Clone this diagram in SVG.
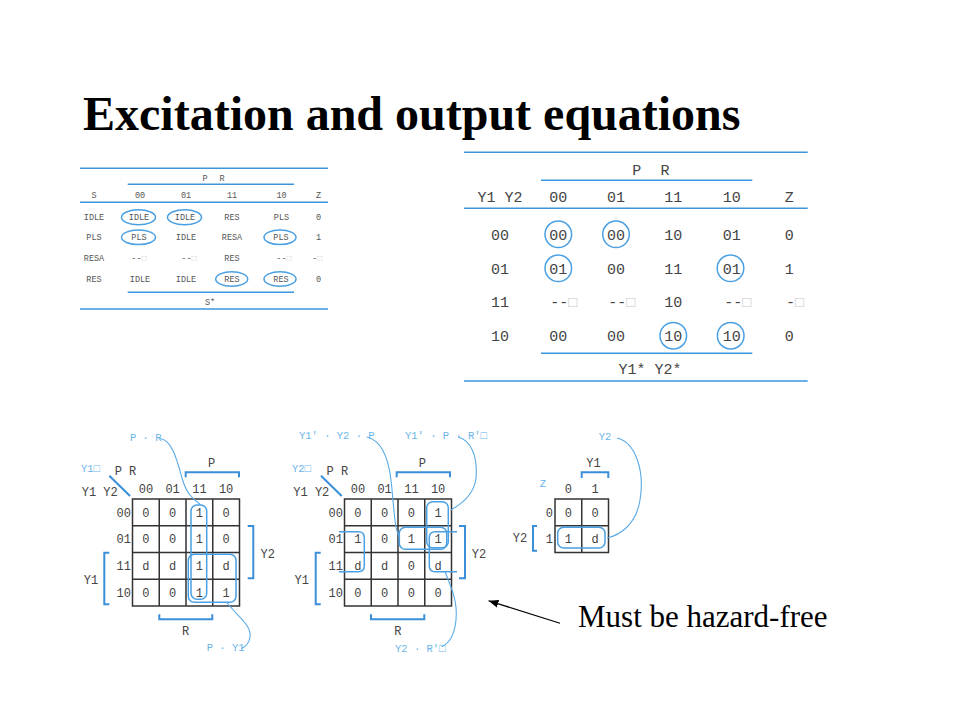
<svg xmlns="http://www.w3.org/2000/svg" width="960" height="720" viewBox="0 0 960 720">
<defs>
<style>
.title{font-family:"Liberation Serif","Times New Roman",serif;font-weight:bold;font-size:48px;fill:#000}
.note{font-family:"Liberation Serif","Times New Roman",serif;font-size:31px;fill:#000}
.ts{font-family:"Liberation Mono","DejaVu Sans Mono",monospace;font-size:8.5px;fill:#555;text-anchor:middle}
.tb{font-family:"Liberation Mono","DejaVu Sans Mono",monospace;font-size:15px;fill:#444;text-anchor:middle}
.k{font-family:"Liberation Mono","DejaVu Sans Mono",monospace;font-size:12px;fill:#444;text-anchor:middle}
.kl{font-family:"Liberation Mono","DejaVu Sans Mono",monospace;font-size:12px;fill:#444}
.kr{font-family:"Liberation Mono","DejaVu Sans Mono",monospace;font-size:12px;fill:#444;text-anchor:end}
.lb{font-family:"Liberation Mono","DejaVu Sans Mono",monospace;font-size:10.5px;fill:#6ab4ea}
.bx{fill:#c8c8c8}
.rule{stroke:#3b95dc;stroke-width:1.6;fill:none}
.brk{stroke:#3b8fd8;stroke-width:2;fill:none}
.loop{stroke:#4aa0e2;stroke-width:1.5;fill:none}
.grid{stroke:#333;stroke-width:1.5;fill:none}
.lead{stroke:#5aaae6;stroke-width:1.1;fill:none}
</style>
<marker id="ah" viewBox="0 0 10 10" refX="10" refY="5" markerWidth="10" markerHeight="10" markerUnits="userSpaceOnUse" orient="auto">
<path d="M0,1 L10,5 L0,9 Z" fill="#000"/>
</marker>
</defs>
<rect width="960" height="720" fill="#fff"/>

<g id="title"><text class="title" x="83" y="130">Excitation and output equations</text></g>

<g id="table-s">
<line class="rule" x1="80" y1="168.3" x2="328" y2="168.3"/>
<text class="ts" x="205" y="181">P</text><text class="ts" x="222" y="181">R</text>
<line class="rule" x1="127.7" y1="184.3" x2="294" y2="184.3"/>
<text class="ts" x="94" y="198">S</text><text class="ts" x="140" y="198">00</text><text class="ts" x="186" y="198">01</text><text class="ts" x="232" y="198">11</text><text class="ts" x="281.5" y="198">10</text><text class="ts" x="318.5" y="198">Z</text>
<line class="rule" x1="80" y1="202.3" x2="328" y2="202.3"/>
<text class="ts" x="94" y="220.3">IDLE</text><text class="ts" x="139" y="220.3">IDLE</text><text class="ts" x="185" y="220.3">IDLE</text><text class="ts" x="232" y="220.3">RES</text><text class="ts" x="281.5" y="220.3">PLS</text><text class="ts" x="318.5" y="220.3">0</text>
<text class="ts" x="94" y="240.3">PLS</text><text class="ts" x="139" y="240.3">PLS</text><text class="ts" x="186" y="240.3">IDLE</text><text class="ts" x="232" y="240.3">RESA</text><text class="ts" x="281" y="240.3">PLS</text><text class="ts" x="318.5" y="240.3">1</text>
<text class="ts" x="94" y="261.3">RESA</text><text class="ts" x="139" y="261.3">--<tspan class="bx">□</tspan></text><text class="ts" x="189" y="261.3">--<tspan class="bx">□</tspan></text><text class="ts" x="232" y="261.3">RES</text><text class="ts" x="284" y="261.3">--<tspan class="bx">□</tspan></text><text class="ts" x="317" y="261.3">-<tspan class="bx">□</tspan></text>
<text class="ts" x="94" y="282">RES</text><text class="ts" x="140" y="282">IDLE</text><text class="ts" x="186" y="282">IDLE</text><text class="ts" x="232" y="282">RES</text><text class="ts" x="281" y="282">RES</text><text class="ts" x="318.5" y="282">0</text>
<line class="rule" x1="127.7" y1="292.3" x2="294" y2="292.3"/>
<text class="ts" x="210" y="304.7">S*</text>
<line class="rule" x1="80" y1="309" x2="328" y2="309"/>
<g class="loop" stroke-width="1.2">
<ellipse cx="138.5" cy="217.3" rx="17" ry="7.5"/>
<ellipse cx="184.5" cy="217.3" rx="17" ry="7.5"/>
<ellipse cx="138.5" cy="237.3" rx="17" ry="7.3"/>
<ellipse cx="280" cy="237.3" rx="16" ry="7.3"/>
<ellipse cx="231.7" cy="279" rx="16" ry="7.3"/>
<ellipse cx="280" cy="279" rx="16" ry="7.3"/>
</g>
</g>

<g id="table-y">
<line class="rule" x1="464" y1="152.3" x2="807.7" y2="152.3"/>
<text class="tb" x="636.7" y="175">P</text><text class="tb" x="665" y="175">R</text>
<line class="rule" x1="541" y1="180.3" x2="752.3" y2="180.3"/>
<text class="tb" x="500" y="201.7">Y1 Y2</text><text class="tb" x="558.3" y="201.7">00</text><text class="tb" x="616" y="201.7">01</text><text class="tb" x="673.3" y="201.7">11</text><text class="tb" x="731.7" y="201.7">10</text><text class="tb" x="789.3" y="201.7">Z</text>
<line class="rule" x1="464" y1="208.3" x2="807.7" y2="208.3"/>
<text class="tb" x="500" y="239.5">00</text><text class="tb" x="558.3" y="239.5">00</text><text class="tb" x="616" y="239.5">00</text><text class="tb" x="673.3" y="239.5">10</text><text class="tb" x="731.7" y="239.5">01</text><text class="tb" x="789.3" y="239.5">0</text>
<text class="tb" x="500" y="273.5">01</text><text class="tb" x="558.3" y="273.5">01</text><text class="tb" x="616" y="273.5">00</text><text class="tb" x="673.3" y="273.5">11</text><text class="tb" x="731.7" y="273.5">01</text><text class="tb" x="789.3" y="273.5">1</text>
<text class="tb" x="500" y="307">11</text><text class="tb" x="563.8" y="307">--<tspan class="bx">□</tspan></text><text class="tb" x="621.7" y="307">--<tspan class="bx">□</tspan></text><text class="tb" x="673.3" y="307">10</text><text class="tb" x="737.8" y="307">--<tspan class="bx">□</tspan></text><text class="tb" x="795" y="307">-<tspan class="bx">□</tspan></text>
<text class="tb" x="500" y="341">10</text><text class="tb" x="558.3" y="341">00</text><text class="tb" x="616" y="341">00</text><text class="tb" x="673.3" y="341">10</text><text class="tb" x="731.7" y="341">10</text><text class="tb" x="789.3" y="341">0</text>
<line class="rule" x1="541" y1="353.3" x2="752.3" y2="353.3"/>
<text class="tb" x="650" y="373.5">Y1* Y2*</text>
<line class="rule" x1="464" y1="381" x2="807.7" y2="381"/>
<g class="loop">
<circle cx="558.3" cy="234.3" r="13.3"/>
<circle cx="616" cy="234.3" r="13.3"/>
<circle cx="558.3" cy="268.3" r="13.3"/>
<circle cx="730.5" cy="268.3" r="13.3"/>
<circle cx="673.3" cy="335.7" r="13.3"/>
<circle cx="730.7" cy="335.7" r="13.3"/>
</g>
</g>

<g id="kmap-y1">
<text class="lb" x="130" y="441">P · R</text>
<text class="lb" x="81" y="471.5">Y1□</text>
<text class="kl" x="114.7" y="474.5">P R</text>
<line x1="109.3" y1="475.7" x2="130" y2="496" class="brk"/>
<text class="kl" x="81.7" y="495.5">Y1 Y2</text>
<text class="k" x="211.7" y="466.7">P</text>
<path class="brk" d="M185.7,477.3 V472.3 H239 V477.3"/>
<text class="k" x="145.9" y="493">00</text><text class="k" x="172.6" y="493">01</text><text class="k" x="199.4" y="493">11</text><text class="k" x="226.1" y="493">10</text>
<text class="kr" x="131" y="516.5">00</text><text class="kr" x="131" y="543.2">01</text><text class="kr" x="131" y="570">11</text><text class="kr" x="131" y="596.7">10</text>
<g class="grid">
<rect x="132.5" y="499" width="107" height="107"/>
<path d="M159.25,499 V606 M186,499 V606 M212.75,499 V606 M132.5,525.75 H239.5 M132.5,552.5 H239.5 M132.5,579.25 H239.5"/>
</g>
<text class="k" x="145.9" y="516.5">0</text><text class="k" x="172.6" y="516.5">0</text><text class="k" x="199.4" y="516.5">1</text><text class="k" x="226.1" y="516.5">0</text>
<text class="k" x="145.9" y="543.2">0</text><text class="k" x="172.6" y="543.2">0</text><text class="k" x="199.4" y="543.2">1</text><text class="k" x="226.1" y="543.2">0</text>
<text class="k" x="145.9" y="570">d</text><text class="k" x="172.6" y="570">d</text><text class="k" x="199.4" y="570">1</text><text class="k" x="226.1" y="570">d</text>
<text class="k" x="145.9" y="596.7">0</text><text class="k" x="172.6" y="596.7">0</text><text class="k" x="199.4" y="596.7">1</text><text class="k" x="226.1" y="596.7">1</text>
<rect class="loop" x="191" y="505" width="15.7" height="94.3" rx="6"/>
<rect class="loop" x="188.3" y="554.3" width="47.7" height="48" rx="6"/>
<path class="brk" d="M247.7,526 H253.3 V578.3 H247.7"/>
<text class="k" x="267.7" y="558">Y2</text>
<path class="brk" d="M109.3,552.7 H104.3 V604.3 H109.3"/>
<text class="k" x="91" y="584">Y1</text>
<path class="brk" d="M159.3,614.3 V619.3 H212.3 V614.3"/>
<text class="k" x="185.7" y="634.7">R</text>
<text class="lb" x="206.7" y="651">P · Y1</text>
</g>

<g id="kmap-y2">
<text class="lb" x="299" y="439">Y1' · Y2 · P</text>
<text class="lb" x="405" y="439">Y1' · P · R'□</text>
<text class="lb" x="292" y="471.5">Y2□</text>
<text class="kl" x="326.5" y="474.5">P R</text>
<line x1="321" y1="475.7" x2="341.7" y2="496" class="brk"/>
<text class="kl" x="293.3" y="495.5">Y1 Y2</text>
<text class="k" x="422.3" y="466.7">P</text>
<path class="brk" d="M396.7,477.3 V472.3 H450 V477.3"/>
<text class="k" x="357.9" y="493">00</text><text class="k" x="384.6" y="493">01</text><text class="k" x="411.4" y="493">11</text><text class="k" x="438.1" y="493">10</text>
<text class="kr" x="343" y="516.5">00</text><text class="kr" x="343" y="543.2">01</text><text class="kr" x="343" y="570">11</text><text class="kr" x="343" y="596.7">10</text>
<g class="grid">
<rect x="344.5" y="499" width="107" height="107"/>
<path d="M371.25,499 V606 M398,499 V606 M424.75,499 V606 M344.5,525.75 H451.5 M344.5,552.5 H451.5 M344.5,579.25 H451.5"/>
</g>
<text class="k" x="357.9" y="516.5">0</text><text class="k" x="384.6" y="516.5">0</text><text class="k" x="411.4" y="516.5">0</text><text class="k" x="438.1" y="516.5">1</text>
<text class="k" x="357.9" y="543.2">1</text><text class="k" x="384.6" y="543.2">0</text><text class="k" x="411.4" y="543.2">1</text><text class="k" x="438.1" y="543.2">1</text>
<text class="k" x="357.9" y="570">d</text><text class="k" x="384.6" y="570">d</text><text class="k" x="411.4" y="570">0</text><text class="k" x="438.1" y="570">d</text>
<text class="k" x="357.9" y="596.7">0</text><text class="k" x="384.6" y="596.7">0</text><text class="k" x="411.4" y="596.7">0</text><text class="k" x="438.1" y="596.7">0</text>
<rect class="loop" x="426.7" y="501.7" width="21.6" height="46" rx="6"/>
<rect class="loop" x="399.3" y="527.3" width="47.4" height="22" rx="6"/>
<path class="loop" d="M339,531.7 H358.3 Q364.3,531.7 364.3,537.7 V565.7 Q364.3,571.7 358.3,571.7 H339"/>
<path class="loop" d="M457,531.7 H435.3 Q429.3,531.7 429.3,537.7 V565.7 Q429.3,571.7 435.3,571.7 H457"/>
<path class="brk" d="M459,526 H465 V578.3 H459"/>
<text class="k" x="479" y="558">Y2</text>
<path class="brk" d="M320.7,552.7 H315.7 V604.3 H320.7"/>
<text class="k" x="301.7" y="584">Y1</text>
<path class="brk" d="M371,614.3 V619.3 H424.3 V614.3"/>
<text class="k" x="397.9" y="634.7">R</text>
<text class="lb" x="395" y="651.5">Y2 · R'□</text>
</g>

<g id="kmap-z">
<text class="lb" x="605" y="440" text-anchor="middle">Y2</text>
<text class="k" x="593.5" y="467">Y1</text>
<path class="brk" d="M581.7,478 V472.3 H608.3 V478"/>
<text class="lb" x="543" y="487" text-anchor="middle">Z</text>
<text class="k" x="568.4" y="493">0</text><text class="k" x="595.1" y="493">1</text>
<text class="kr" x="553" y="516.5">0</text><text class="kr" x="553" y="543.2">1</text>
<g class="grid">
<rect x="555" y="499" width="53.5" height="53.5"/>
<path d="M581.75,499 V552.5 M555,525.75 H608.5"/>
</g>
<text class="k" x="568.4" y="516.5">0</text><text class="k" x="595.1" y="516.5">0</text>
<text class="k" x="568.4" y="543.2">1</text><text class="k" x="595.1" y="543.2">d</text>
<rect class="loop" x="557.7" y="527.3" width="47.3" height="20.7" rx="6"/>
<path class="brk" d="M537,526 H533 V550.7 H537"/>
<text class="k" x="520" y="542">Y2</text>
</g>

<g id="note"><text class="note" x="578" y="627">Must be hazard-free</text></g>

<g id="connectors">
<path class="lead" d="M160,438.5 C172,440 177,460 182,478 S195,500 201,505"/>
<path class="lead" d="M226.7,602.3 C236,615 252,625 250,637 C249,644 245,647 241.5,648.5"/>
<path class="lead" d="M366.7,437 C380,440 388,455 391,480 C394,505 394,530 400,538"/>
<path class="lead" d="M458.3,437.3 C470,440 478,455 476,478 C474,495 460,505 450.7,510"/>
<path class="lead" d="M445,571.7 C450,585 458,600 456,620 C454.5,635 450,643 441.7,646.7"/>
<path class="lead" d="M617,438 C635,442 645,470 640,500 C636,525 620,535 607,538"/>
<line x1="560" y1="623.3" x2="488.5" y2="600.7" stroke="#000" stroke-width="1.2" marker-end="url(#ah)"/>
</g>
</svg>
